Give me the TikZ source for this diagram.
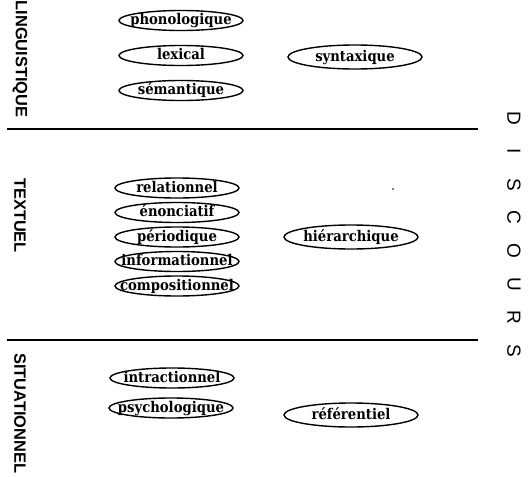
\documentclass[tikz,border=0pt]{standalone}
\usepackage{fontspec}
\setmainfont{DejaVu Serif}
\newfontfamily\labfont{Liberation Sans}
\usetikzlibrary{shapes.geometric}
\newcommand\ovl[1]{\raisebox{-0.33em}[0pt][0pt]{\makebox[0pt]{\scalebox{1}[1.12]{#1}}}}
\begin{document}
\begin{tikzpicture}[x=1pt,y=-1pt,
  oval/.style={ellipse, draw, line width=1.4pt, inner sep=0pt,
    minimum width=124pt, minimum height=20pt,
    font=\fontsize{13.2}{13}\selectfont\bfseries},
  bigoval/.style={oval, minimum width=134pt, minimum height=24pt},
  sect/.style={rotate=-90, inner sep=0pt, anchor=west,
    font=\labfont\bfseries\fontsize{16.4}{16}\selectfont},
  disc/.style={rotate=-90, inner sep=0pt,
    font=\labfont\fontsize{19}{19}\selectfont},
  sepline/.style={line width=2.2pt}]
\useasboundingbox (0,0) rectangle (531,477);
% section labels
\node[sect] (ling) at (20,0.5) {LINGUISTIQUE};
\node[sect] (text) at (20,178) {TEXTUEL};
\node[sect] (situ) at (20,353) {SITUATIONNEL};
% separators
\coordinate (s1a) at (7,129);
\coordinate (s1b) at (478,129);
\coordinate (s2a) at (7,340);
\coordinate (s2b) at (478,340);
\draw[sepline] (s1a) -- (s1b);
\draw[sepline] (s2a) -- (s2b);
% linguistique
\node[oval] (phon) at (181,20.5) {\ovl{phonologique}};
\node[oval] (lex) at (181,55.5) {\ovl{lexical}};
\node[oval] (sem) at (181,90.5) {\ovl{sémantique}};
\node[bigoval] (synt) at (355,57) {\ovl{syntaxique}};
% textuel
\node[oval] (rel) at (177,188) {\ovl{relationnel}};
\node[oval] (enon) at (177,212.5) {\ovl{énonciatif}};
\node[oval] (peri) at (177,237) {\ovl{périodique}};
\node[oval] (info) at (177,261.5) {\ovl{informationnel}};
\node[oval] (comp) at (177,286) {\ovl{compositionnel}};
\node[bigoval] (hier) at (351,237) {\ovl{hiérarchique}};
% situationnel
\node[oval] (intr) at (172,378) {\ovl{intractionnel}};
\node[oval] (psy) at (171,408) {\ovl{psychologique}};
\node[bigoval] (ref) at (351,415) {\ovl{référentiel}};
% speck
\fill (393,189) circle (0.8);
% DISCOURS
\foreach \l [count=\i from 0] in {D,I,S,C,O,U,R,S}
  \node[disc] (disc\i) at (514,118+33.2*\i) {\l};
\end{tikzpicture}
\end{document}
